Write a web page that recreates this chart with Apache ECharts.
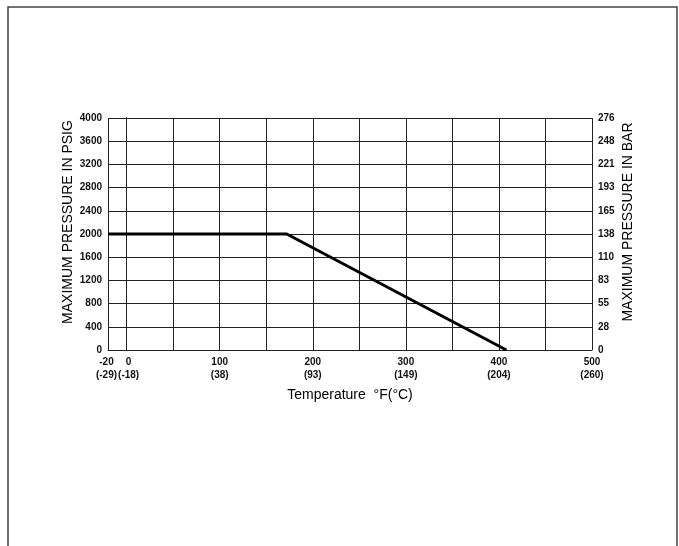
<!DOCTYPE html>
<html><head><meta charset="utf-8">
<script src="https://cdn.jsdelivr.net/npm/echarts@6/dist/echarts.min.js"></script>
<style>html,body{margin:0;padding:0;background:#fff}#c{width:679px;height:546px}</style>
</head><body><div id="c"></div>
<script>
// Data
const tempF = [-20, 172, 408];
const pressurePsig = [2000, 2000, 0];
const xGridValues = [-20, 0, 50, 100, 150, 200, 250, 300, 350, 400, 450, 500];
const xMinLabelValues = [-20];
const xLabelValues = [0, 100, 200, 300, 400, 500];
const xLabelCelsius = {'-20': '(-29)', '0': '(-18)', '100': '(38)', '200': '(93)', '300': '(149)', '400': '(204)', '500': '(260)'};
const psigTicks = [0, 400, 800, 1200, 1600, 2000, 2400, 2800, 3200, 3600, 4000];
const barLabels = ['0', '28', '55', '83', '110', '138', '165', '193', '221', '248', '276'];

const tickFont = 'Liberation Sans';
const nameFont = 'Liberation Sans';
const tickText = {fontFamily: tickFont, fontSize: 10, fontWeight: 'bold', color: '#111', lineHeight: 13};
const xLabelStyle = Object.assign({
  interval: 0, margin: 6, hideOverlap: false,
  formatter: v => {
    const s = String(v) + '\n' + xLabelCelsius[String(v)];
    return v === 0 ? '{s|0}\n{s|' + xLabelCelsius['0'] + '}' : s;
  },
  rich: {s: Object.assign({padding: [0, 0, 0, 4]}, tickText)}
}, tickText);
const chart = echarts.init(document.getElementById('c'));
chart.setOption({
  animation: false,
  graphic: [{type: 'rect', shape: {x: 8, y: 7, width: 669, height: 600}, style: {fill: 'none', stroke: '#444', lineWidth: 1.5}, silent: true}],
  grid: {left: 108, right: 87, top: 118, bottom: 196},
  xAxis: [{
    type: 'value', min: -20, max: 500, position: 'bottom',
    name: 'Temperature  °F(°C)', nameLocation: 'middle', nameGap: 38, nameMoveOverlap: false,
    nameTextStyle: {fontFamily: nameFont, fontSize: 14, color: '#000'},
    axisLine: {show: true, lineStyle: {color: '#222', width: 1}},
    axisTick: {show: false, customValues: xGridValues},
    splitLine: {show: true, lineStyle: {color: '#222', width: 1}},
    axisLabel: Object.assign({customValues: xLabelValues}, xLabelStyle)
  }, {
    type: 'value', min: -20, max: 500, position: 'bottom', offset: 0,
    axisLine: {show: false}, axisTick: {show: false}, splitLine: {show: false},
    axisLabel: Object.assign({}, xLabelStyle, {customValues: xMinLabelValues, showMinLabel: true, padding: [0, 3, 0, 0]})
  }],
  yAxis: [{
    type: 'value', min: 0, max: 4000, interval: 400, position: 'left',
    name: 'MAXIMUM PRESSURE IN PSIG', nameLocation: 'middle', nameGap: 33, nameRotate: 90, nameMoveOverlap: false,
    nameTextStyle: {fontFamily: nameFont, fontSize: 14, color: '#000', padding: [0, 0, 0, 24]},
    axisLine: {show: true, lineStyle: {color: '#222', width: 1}},
    axisTick: {show: true, length: 4, lineStyle: {color: '#222'}},
    splitLine: {show: true, lineStyle: {color: '#222', width: 1}},
    axisLabel: Object.assign({margin: 6, formatter: v => String(v)}, tickText)
  }, {
    type: 'value', min: 0, max: 4000, interval: 400, position: 'right',
    name: 'MAXIMUM PRESSURE IN BAR', nameLocation: 'middle', nameGap: 29, nameRotate: 90, nameMoveOverlap: false,
    nameTextStyle: {fontFamily: nameFont, fontSize: 14, color: '#000', padding: [0, 0, 0, 24]},
    axisLine: {show: true, lineStyle: {color: '#222', width: 1}},
    axisTick: {show: true, length: 4, lineStyle: {color: '#222'}},
    splitLine: {show: false},
    axisLabel: Object.assign({margin: 6, formatter: v => barLabels[psigTicks.indexOf(v)]}, tickText)
  }],
  series: [{
    type: 'line', xAxisIndex: 0, yAxisIndex: 0,
    data: tempF.map((t, i) => [t, pressurePsig[i]]),
    symbol: 'none', lineStyle: {color: '#000', width: 3}
  }]
});
</script></body></html>
